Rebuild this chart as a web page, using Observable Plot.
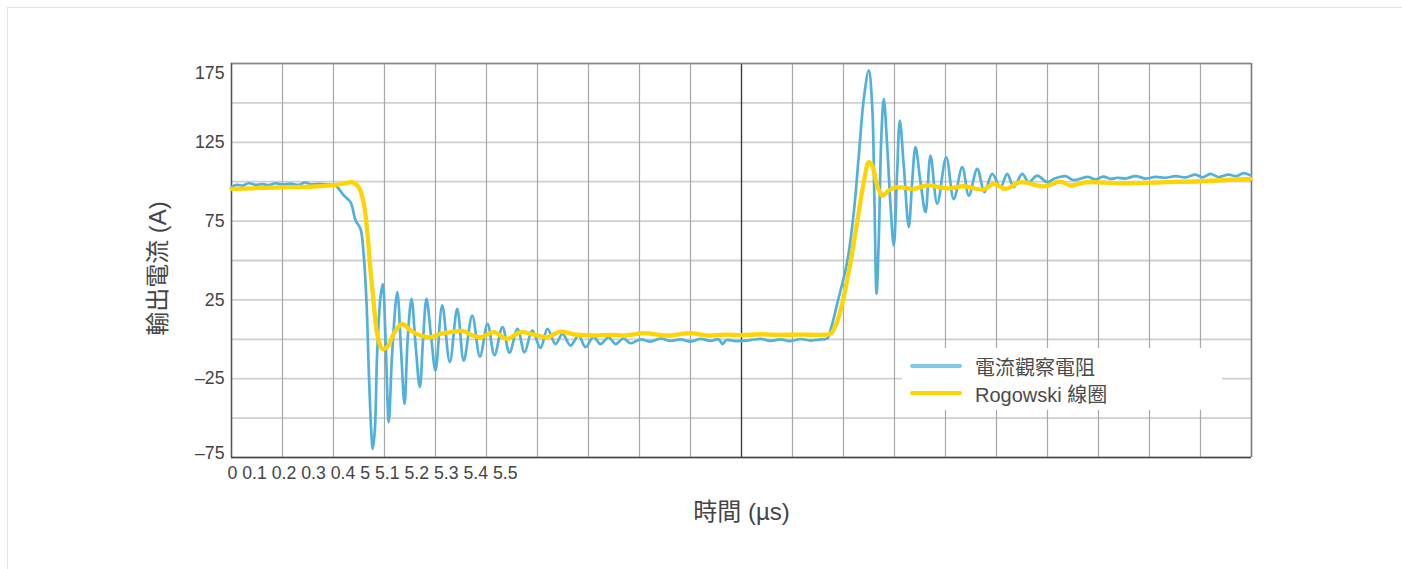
<!DOCTYPE html>
<html>
<head>
<meta charset="utf-8">
<script src="https://cdn.jsdelivr.net/npm/d3@7"></script>
<script src="https://cdn.jsdelivr.net/npm/@observablehq/plot@0.6"></script>
<style>
  html, body { margin: 0; padding: 0; background: #fff; overflow: hidden; width: 1402px; height: 569px; }
  body { font-family: "Liberation Sans", Arial, "Noto Sans CJK TC", sans-serif; }
  #frame { position: absolute; left: 7px; top: 7px; width: 1600px; height: 700px; border: 1.5px solid #e3e3e3; }
  #chart { position: absolute; left: 0; top: 0; }
  #legend { position: absolute; left: 902px; top: 348px; width: 320px; height: 62px; background: #fff; }
  .item { position: absolute; left: 0; height: 26px; display: flex; align-items: center; }
  .sw { width: 52px; height: 4.5px; border-radius: 2px; margin-left: 8px; margin-right: 13px; }
  .lbl { font-size: 20px; color: #4a4a4a; font-family: "Liberation Sans", Arial, "Noto Sans CJK TC", sans-serif; }
</style>
</head>
<body>
<div id="frame"></div>
<div id="chart"></div>
<div id="legend"></div>
<script>
// ---- data (time in µs, current in A) ----
const seriesNames = ["電流觀察電阻", "Rogowski 線圈"];
const seriesColors = ["#52b0dc", "#ffd400"];
const legendColors = ["#80c9e9", "#ffd400"];

const blueT = [0, 0.0049, 0.0108, 0.0167, 0.0235, 0.0304, 0.0363, 0.0431, 0.0500, 0.0578, 0.0657, 0.0725, 0.0775, 0.0853, 0.0931,
  0.1020, 0.1098, 0.1167, 0.1216, 0.1265, 0.1294, 0.1324, 0.1346, 0.1370, 0.1385, 0.1405, 0.1428, 0.1461, 0.1483, 0.1510,
  0.1542, 0.1575, 0.1625, 0.1664, 0.1696, 0.1728, 0.1765, 0.1804, 0.1846, 0.1879, 0.1912, 0.1958, 0.2000, 0.2066, 0.2140,
  0.2213, 0.2277, 0.2360, 0.2436, 0.2510, 0.2578, 0.2657, 0.2725, 0.2804, 0.2873, 0.2948, 0.3029, 0.3098, 0.3176, 0.3245,
  0.3324, 0.3402, 0.3471, 0.3549, 0.3618, 0.3696, 0.3765, 0.3843, 0.3912, 0.4010, 0.4108, 0.4206, 0.4304, 0.4402, 0.4500,
  0.4598, 0.4696, 0.4775, 0.4814, 0.4853, 0.4941,
  5.0000, 5.0088, 5.0186, 5.0284, 5.0382, 5.0480, 5.0578, 5.0676, 5.0775, 5.0840, 5.0882, 5.0938, 5.1036, 5.1101, 5.1150,
  5.1199, 5.1248, 5.1281, 5.1304, 5.1324, 5.1346, 5.1370, 5.1395, 5.1428, 5.1461, 5.1493, 5.1526, 5.1552, 5.1591, 5.1640,
  5.1673, 5.1706, 5.1755, 5.1804, 5.1853, 5.1919, 5.2007, 5.2081, 5.2164, 5.2229, 5.2311, 5.2382, 5.2458, 5.2539, 5.2605,
  5.2669, 5.2752, 5.2816, 5.2899, 5.2997, 5.3062, 5.3176, 5.3255, 5.3392, 5.3471, 5.3549, 5.3618, 5.3686, 5.3765, 5.3863,
  5.3961, 5.4059, 5.4157, 5.4255, 5.4353, 5.4451, 5.4520, 5.4598, 5.4676, 5.4775, 5.4853, 5.4922, 5.4990];
const blueV = [96.5, 98, 97.5, 99, 98, 98.5, 97.8, 99, 98.2, 98.8, 98, 99.5, 98.3, 98.6, 98.4,
  97.6, 91.5, 87, 75.5, 70, 55, 23, -20, -58, -69.5, -58, -9, 27, 35, 1,
  -52.5, -9, 30, -9, -41, 1, 25.7, -3, -30.4, 1, 25.7, 1, -19.8, 21.5, -14.5,
  19.4, -13.5, 15, -11, 9.8, -10, 7.7, -8.5, 6.7, -8.2, 5.6, -5.5, 6.7, -3, 3.5,
  -4, 2.4, -5, 1.5, -3, 1.3, -3, 0.5, -2.5, 0, -1.5, 0.5, -1, 0, -1.5,
  0.3, -1, 0, -3, -0.5, -1.2,
  -1, -0.5, 0.3, -1, 0, -1.2, 0.2, -0.8, 0, 0.5, 8, 22.5, 49, 80.6, 116.6,
  152.6, 170.6, 148.4, 85, 29, 63.8, 127, 152.6, 123, 85, 59.5, 106, 138.8, 110, 71.2,
  99.7, 121.9, 99.7, 80.6, 116.6, 86, 115.5, 89, 109.2, 91.2, 108.2, 93.3, 105, 96.5, 105,
  96.5, 105, 99.7, 103.9, 99.7, 101.8, 103.5, 101, 103, 101.5, 103.2, 101.8, 102.5, 102, 103.5,
  102, 103, 102.5, 103.5, 102.8, 104.5, 102.8, 105, 103, 104.5, 103.5, 105.5, 104];

const yellowT = [0, 0.0186, 0.0382, 0.0578, 0.0775, 0.0971, 0.1098, 0.1183, 0.1248, 0.1297, 0.1336, 0.1363, 0.1395, 0.1428,
  0.1477, 0.1526, 0.1591, 0.1674, 0.1755, 0.1853, 0.1951, 0.2049, 0.2147, 0.2277, 0.2343, 0.2441, 0.2572, 0.2703, 0.2833,
  0.2964, 0.3095, 0.3225, 0.3356, 0.3552, 0.3716, 0.3863, 0.4042, 0.4272, 0.4500, 0.4664, 0.4843,
  5.0000, 5.0186, 5.0382, 5.0578, 5.0775, 5.0873, 5.0931, 5.0987, 5.1069, 5.1134, 5.1199, 5.1248, 5.1281, 5.1330, 5.1379,
  5.1444, 5.1510, 5.1689, 5.1821, 5.2017, 5.2179, 5.2375, 5.2473, 5.2588, 5.2735, 5.2964, 5.3127, 5.3225, 5.3389, 5.3716,
  5.4174, 5.4500, 5.4990];
const yellowV = [95.5, 95.8, 96.3, 96.5, 96.8, 97.6, 98.7, 99.7, 96.5, 86, 64.8, 43.7, 22.5, 3.5,
  -6, -5, 3.5, 9.8, 5.6, 2.4, 1.3, 3.5, 4.5, 5.2, 3, 1.3, 4.5, 0.3, 4.5,
  3, 1.3, 4.9, 3.2, 2.4, 2.8, 2.4, 3.9, 2.4, 3.9, 2.4, 3,
  2.6, 3.2, 2.8, 3, 2.8, 3.5, 10, 22.5, 49, 74.3, 99.7, 112.4, 110.3, 97.6, 91.2,
  94.4, 96.5, 95.5, 97.6, 95.8, 97.1, 95, 98.7, 95.5, 99.7, 97.1, 100.1, 97.6, 99.7, 99,
  99.7, 100.3, 101.8];

const xTickLabels = ["0", "0.1", "0.2", "0.3", "0.4", "5", "5.1", "5.2", "5.3", "5.4", "5.5"];
const xGrid = [0, 0.05, 0.1, 0.15, 0.2, 0.25, 0.3, 0.35, 0.4, 0.45, 5.0, 5.05, 5.1, 5.15, 5.2, 5.25, 5.3, 5.35, 5.4, 5.45, 5.5];
const xBreak = [5.0];
const yGrid = [175, 150, 125, 100, 75, 50, 25, 0, -25, -50, -75];
const yTicksMid = [125, 75, 25, -25];
const yTickTop = [175];
const yTickBottom = [-75];
const xTitle = "時間 (µs)";
const yTitle = "輸出電流 (A)";

// broken time axis: 0–0.5 µs then 5.0–5.5 µs
const pos = t => (t >= 1 ? t - 4.5 : t);

const blue = blueT.map((t, i) => ({t, v: blueV[i]}));
const yellow = yellowT.map((t, i) => ({t, v: yellowV[i]}));

const font = `"Liberation Sans", Arial, "Noto Sans CJK TC", sans-serif`;
const tickFs = 17.7;
const dash = d => d < 0 ? "–" + Math.abs(d) : String(d);

const chart = Plot.plot({
  width: 1402,
  height: 569,
  marginLeft: 231,
  marginRight: 151,
  marginTop: 63,
  marginBottom: 112,
  style: {fontFamily: font, background: "transparent", color: "#444"},
  x: {domain: [0, 1], axis: null},
  y: {domain: [-75, 175], axis: null},
  marks: [
    Plot.ruleY(yGrid, {y: d => d, stroke: "#cfcfcf", strokeWidth: 1.8}),
    Plot.ruleX(xGrid, {x: d => pos(d), stroke: "#a8a8a8", strokeWidth: 1.2}),
    Plot.ruleX(xBreak, {x: d => pos(d), stroke: "#3a3a3a", strokeWidth: 1.3}),
    Plot.ruleY(yTickTop, {y: d => d, stroke: "#8a8a8a", strokeWidth: 1.5}),
    Plot.ruleX([xGrid[xGrid.length - 1]], {x: d => pos(d), stroke: "#7a7a7a", strokeWidth: 1.5}),
    Plot.ruleX([xGrid[0]], {x: d => pos(d), stroke: "#555", strokeWidth: 1.5}),
    Plot.ruleY(yTickBottom, {y: d => d, stroke: "#444", strokeWidth: 1.5}),
    Plot.line(blue, {x: d => pos(d.t), y: "v", stroke: seriesColors[0], strokeWidth: 2.7, curve: "catmull-rom"}),
    Plot.line(yellow, {x: d => pos(d.t), y: "v", stroke: seriesColors[1], strokeWidth: 4.3, curve: "catmull-rom"}),
    Plot.axisY(yTicksMid, {tickSize: 0, tickPadding: 7, fontSize: tickFs, label: null, tickFormat: dash}),
    Plot.axisY(yTickTop, {tickSize: 0, tickPadding: 7, fontSize: tickFs, label: null, dy: 10, tickFormat: dash}),
    Plot.axisY(yTickBottom, {tickSize: 0, tickPadding: 7, fontSize: tickFs, label: null, dy: -4, tickFormat: dash}),
    Plot.text([xTickLabels.join(" ")], {frameAnchor: "bottom-left", textAnchor: "start", lineAnchor: "top", dx: -4, dy: 9, fontSize: tickFs, fill: "#444"}),
    Plot.text([xTitle], {frameAnchor: "bottom", textAnchor: "middle", lineAnchor: "middle", dy: 55, fontSize: 24, fill: "#444"}),
    Plot.text([yTitle], {frameAnchor: "left", textAnchor: "middle", rotate: -90, lineAnchor: "middle", dx: -73, dy: 8, fontSize: 24, fill: "#444"})
  ]
});
document.getElementById("chart").appendChild(chart);

const legend = document.getElementById("legend");
seriesNames.forEach((name, i) => {
  const row = document.createElement("div");
  row.className = "item";
  row.style.top = (5 + i * 27) + "px";
  const sw = document.createElement("div");
  sw.className = "sw";
  sw.style.background = legendColors[i];
  const lbl = document.createElement("span");
  lbl.className = "lbl";
  lbl.textContent = name;
  row.appendChild(sw);
  row.appendChild(lbl);
  legend.appendChild(row);
});
</script>
</body>
</html>
